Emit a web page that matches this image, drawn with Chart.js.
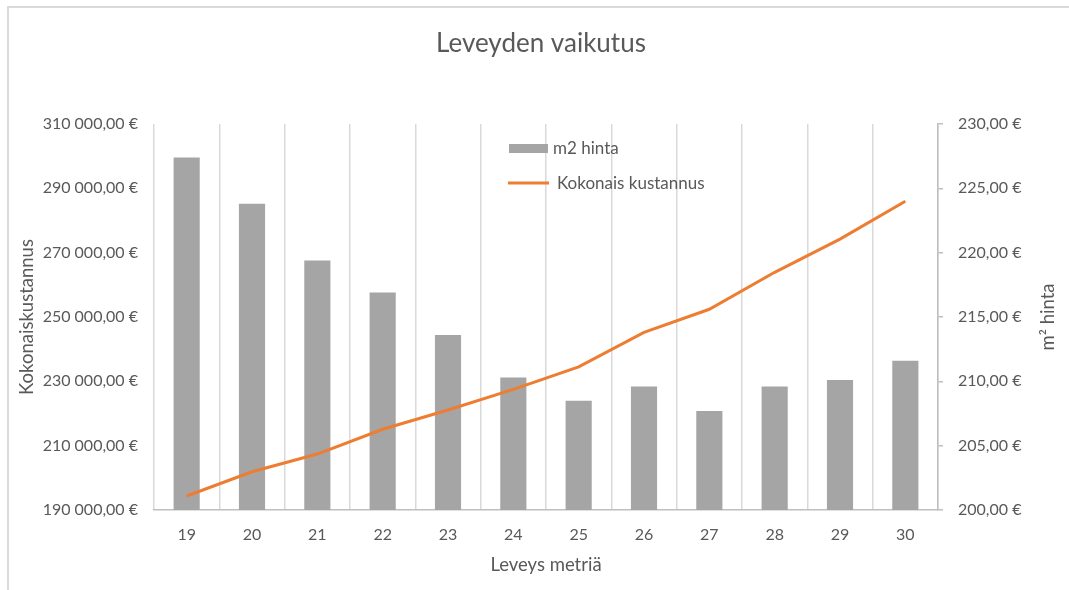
<!DOCTYPE html>
<html lang="fi">
<head>
<meta charset="utf-8">
<title>Leveyden vaikutus</title>
<script src="https://cdn.jsdelivr.net/npm/chart.js@4.4.1/dist/chart.umd.min.js"></script>
<style>
  html, body { margin: 0; padding: 0; background: #ffffff; }
  #wrap { width: 1069px; height: 590px; position: relative; }
</style>
</head>
<body>
<div id="wrap"><canvas id="chart" width="1069" height="590"></canvas></div>
<script>
// Leveys (m)
const widths = ['19', '20', '21', '22', '23', '24', '25', '26', '27', '28', '29', '30'];
// Neliöhinta (€/m²) – right axis
const squareMetrePrice = [227.4, 223.8, 219.4, 216.9, 213.6, 210.3, 208.5, 209.6, 207.7, 209.6, 210.1, 211.6];
// Kokonaiskustannus (€) – left axis
const totalCost = [194350, 201900, 207400, 215100, 221100, 227500, 234500, 245200, 252400, 263900, 274200, 286000];

const seriesNames = ['m2 hinta', 'Kokonais kustannus'];
const chartTitle = 'Leveyden vaikutus';
const xTitle = 'Leveys metriä';
const leftTitle = 'Kokonaiskustannus';
const rightTitle = 'm\u00b2 hinta';

// Axis ranges
const leftRange = { min: 190000, max: 310000, step: 20000 };
const rightRange = { min: 200, max: 230, step: 5 };

const FONT = 'Lato, "Open Sans", "Noto Sans", sans-serif';
const TEXT = '#595959';
const GRID = '#d9d9d9';
const AXIS = '#bfbfbf';
const BAR = '#a5a5a5';
const LINE = '#ed7d31';

const TITLE_SIZE = 26;
const TICK_SIZE = 16;
const AXIS_TITLE_SIZE = 18.5;
const LEGEND_SIZE = 17;

// Euro format with space grouping and comma decimals
function euro(v) {
  const fixed = Math.abs(v).toFixed(2);
  let [intPart, dec] = fixed.split('.');
  intPart = intPart.replace(/\B(?=(\d{3})+(?!\d))/g, '\u00a0');
  return (v < 0 ? '-' : '') + intPart + ',' + dec + '\u00a0€';
}

// Outer frame lines of the chart
const framePlugin = {
  id: 'frame',
  beforeDraw(chart) {
    const ctx = chart.ctx;
    ctx.save();
    ctx.strokeStyle = GRID;
    ctx.lineWidth = 2;
    ctx.beginPath();
    ctx.moveTo(8, chart.height);
    ctx.lineTo(8, 7);
    ctx.lineTo(chart.width, 7);
    ctx.stroke();
    ctx.restore();
  }
};

// Chart title, right axis title (reads bottom to top) and in-plot legend
const overlayPlugin = {
  id: 'overlay',
  afterDraw(chart) {
    const ctx = chart.ctx;
    const area = chart.chartArea;

    // chart title
    ctx.save();
    ctx.fillStyle = TEXT;
    ctx.font = TITLE_SIZE + 'px ' + FONT;
    ctx.textAlign = 'center';
    ctx.textBaseline = 'middle';
    ctx.fillText(chartTitle, 541, 44);
    ctx.restore();

    // right axis title
    ctx.save();
    ctx.fillStyle = TEXT;
    ctx.font = AXIS_TITLE_SIZE + 'px ' + FONT;
    ctx.textAlign = 'center';
    ctx.textBaseline = 'middle';
    ctx.translate(1048, (area.top + area.bottom) / 2);
    ctx.rotate(-Math.PI / 2);
    ctx.fillText(rightTitle, 0, 0);
    ctx.restore();

    // legend
    const ds = chart.data.datasets;
    ctx.save();
    ctx.font = LEGEND_SIZE + 'px ' + FONT;
    ctx.textBaseline = 'middle';
    ctx.textAlign = 'left';
    // bar entry
    ctx.fillStyle = ds[0].backgroundColor;
    ctx.fillRect(509, 144, 39, 9);
    ctx.fillStyle = TEXT;
    ctx.fillText(ds[0].label, 553, 149);
    // line entry
    ctx.strokeStyle = ds[1].borderColor;
    ctx.lineWidth = 3;
    ctx.beginPath();
    ctx.moveTo(508, 183);
    ctx.lineTo(549, 183);
    ctx.stroke();
    ctx.fillStyle = TEXT;
    ctx.fillText(ds[1].label, 557, 184);
    ctx.restore();
  }
};

new Chart(document.getElementById('chart'), {
  type: 'bar',
  data: {
    labels: widths,
    datasets: [
      {
        type: 'bar',
        label: seriesNames[0],
        data: squareMetrePrice,
        yAxisID: 'yRight',
        backgroundColor: BAR,
        borderWidth: 0,
        categoryPercentage: 1.0,
        barPercentage: 0.4,
        order: 2
      },
      {
        type: 'line',
        label: seriesNames[1],
        data: totalCost,
        yAxisID: 'yLeft',
        borderColor: LINE,
        backgroundColor: LINE,
        borderWidth: 3,
        pointRadius: 0,
        tension: 0,
        fill: false,
        order: 1
      }
    ]
  },
  options: {
    responsive: false,
    animation: false,
    devicePixelRatio: 1,
    layout: { padding: { top: 124, left: 0, right: 0, bottom: 0 } },
    plugins: {
      legend: { display: false },
      tooltip: { enabled: false },
      title: { display: false }
    },
    scales: {
      x: {
        position: 'bottom',
        offset: true,
        grid: { display: true, offset: true, color: GRID, lineWidth: 1.5, drawTicks: false },
        border: { display: true, color: AXIS, width: 1.5 },
        ticks: { color: TEXT, font: { family: FONT, size: TICK_SIZE }, padding: 15, maxRotation: 0 },
        title: {
          display: true, text: xTitle, color: TEXT,
          font: { family: FONT, size: AXIS_TITLE_SIZE }, padding: { top: 0, bottom: 13.9 }
        },
        afterFit(scale) { scale.height = 80; }
      },
      yLeft: {
        position: 'left',
        min: leftRange.min,
        max: leftRange.max,
        grid: { drawOnChartArea: false, drawTicks: false },
        border: { display: false },
        ticks: {
          stepSize: leftRange.step,
          color: TEXT,
          font: { family: FONT, size: TICK_SIZE },
          padding: 16,
          callback: (v) => euro(v)
        },
        title: {
          display: true, text: leftTitle, color: TEXT,
          font: { family: FONT, size: AXIS_TITLE_SIZE }, padding: { top: 15.9, bottom: 0 }
        },
        afterFit(scale) { scale.width = 154; }
      },
      yRight: {
        position: 'right',
        min: rightRange.min,
        max: rightRange.max,
        grid: { drawOnChartArea: false, drawTicks: true, tickLength: 5, color: AXIS, lineWidth: 1.5 },
        border: { display: true, color: AXIS, width: 1.5 },
        ticks: {
          stepSize: rightRange.step,
          color: TEXT,
          font: { family: FONT, size: TICK_SIZE },
          padding: 15,
          callback: (v) => euro(v)
        },
        afterFit(scale) { scale.width = 131; }
      }
    }
  },
  plugins: [framePlugin, overlayPlugin]
});
</script>
</body>
</html>
